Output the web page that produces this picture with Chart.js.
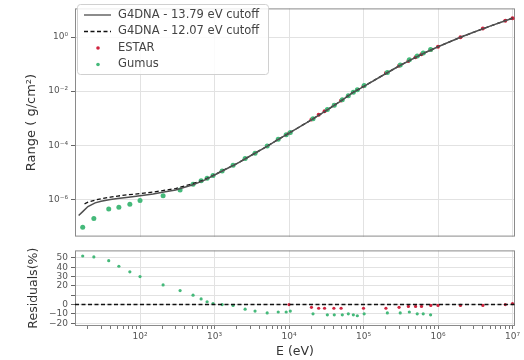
<!DOCTYPE html>
<html>
<head>
<meta charset="utf-8">
<script src="https://cdn.jsdelivr.net/npm/chart.js@4.4.1/dist/chart.umd.min.js"></script>
<style>
  body { margin: 0; background: #fff; width: 524px; height: 360px; position: relative; overflow: hidden; }
  canvas { position: absolute; left: 0; }
  #rangeChart { top: 0; }
  #residChart { top: 242px; }
</style>
</head>
<body>
<canvas id="rangeChart" width="524" height="245"></canvas>
<canvas id="residChart" width="524" height="118"></canvas>
<script>
// G4DNA range curves (eV -> g/cm2)
const energyCurve = [15, 17, 20, 25, 30, 40, 50, 70, 100, 150, 200, 300, 500, 700, 1000, 1500, 2000, 3000, 5000, 7000,
  1e4, 2e4, 3e4, 5e4, 7e4, 1e5, 2e5, 3e5, 5e5, 7e5, 1e6, 2e6, 3e6, 5e6, 7e6, 1e7]
const range1379 = [2.5e-7, 3.5e-7, 5.4e-7, 7.4e-7, 8.5e-7, 9.8e-7, 1.07e-6, 1.2e-6, 1.35e-6, 1.58e-6, 1.82e-6, 2.19e-6,
  3.4e-6, 4.8e-6, 7.9e-6, 1.41e-5, 2.1e-5, 4.0e-5, 8.9e-5, 1.58e-4, 2.8e-4, 8.7e-4, 1.74e-3, 4.4e-3, 8.5e-3, 1.48e-2,
  4.5e-2, 8.5e-2, 0.178, 0.28, 0.437, 0.98, 1.51, 2.54, 3.55, 4.98]

const energyDashed = [18, 20, 25, 30, 40, 50, 70, 100, 150, 200, 300, 500, 700, 1000, 1500, 2000, 3000, 5000, 7000,
  1e4, 2e4, 3e4, 5e4, 7e4, 1e5, 2e5, 3e5, 5e5, 7e5, 1e6, 2e6, 3e6, 5e6, 7e6, 1e7]
const range1207 = [6.8e-7, 7.8e-7, 9.3e-7, 1.05e-6, 1.2e-6, 1.32e-6, 1.48e-6, 1.62e-6, 1.86e-6, 2.09e-6, 2.5e-6,
  3.7e-6, 5.0e-6, 8.1e-6, 1.43e-5, 2.1e-5, 4.0e-5, 8.9e-5, 1.58e-4, 2.8e-4, 8.7e-4, 1.74e-3, 4.4e-3, 8.5e-3, 1.48e-2,
  4.5e-2, 8.5e-2, 0.178, 0.28, 0.437, 0.98, 1.51, 2.54, 3.55, 4.98]

// ESTAR
const energyEstar = [1e4, 2e4, 2.5e4, 3e4, 4e4, 5e4, 1e5, 2e5, 3e5, 4e5, 5e5, 6e5, 8e5, 1e6, 2e6, 4e6, 8e6, 1e7]
const rangeEstar = [2.8e-4, 8.9e-4, 1.33e-3, 1.8e-3, 3.0e-3, 4.55e-3, 1.53e-2, 4.68e-2, 8.7e-2, 0.131, 0.181, 0.231,
  0.33, 0.44, 0.99, 2.06, 4.03, 4.93]
const residEstar = [0, -3, -4, -4, -4, -4, -4, -4, -3, -2, -2, -2, -1, -1, -1, -1, 0, 1]

// Gumus
const energyGumus = [17, 24, 38, 52, 73, 100, 204, 345, 515, 661, 795, 955, 1265, 1775, 2575, 3500, 5090, 7160, 9160,
  10400, 21000, 32700, 40500, 51900, 62500, 73000, 82600, 102000, 209000, 311000, 412000, 526000, 633000, 795000]
const rangeGumus = [9.3e-8, 1.95e-7, 4.4e-7, 5.1e-7, 6.6e-7, 9.1e-7, 1.35e-6, 2.2e-6, 3.6e-6, 4.9e-6, 6.0e-6, 7.6e-6,
  1.12e-5, 1.82e-5, 3.2e-5, 5.1e-5, 9.3e-5, 1.66e-4, 2.45e-4, 2.95e-4, 9.5e-4, 2.1e-3, 3.0e-3, 4.8e-3, 6.8e-3, 9.1e-3,
  1.12e-2, 1.62e-2, 4.9e-2, 9.3e-2, 0.145, 0.2, 0.257, 0.347]
const residGumus = [52, 51, 47, 41, 35, 30, 21, 15, 10, 6, 3, 1, 0, -1, -5, -7, -9, -8, -8, -7, -10, -11, -11, -11,
  -10, -11, -12, -10, -9, -9, -8, -10, -10, -11]

// ticks
const xDecades = [1e2, 1e3, 1e4, 1e5, 1e6, 1e7]
const yRangeTicks = [1e-6, 1e-4, 1e-2, 1]
const yResidTicks = [-20, -10, 0, 10, 20, 30, 40, 50]

const X_MIN = 13.4, X_MAX = 1.08e7
const RED = '#d0243f'
const GREEN = '#45b97a'
const GRID = '#e2e2e2'
const FONT = 'DejaVu Sans'

const pts = (xs, ys) => xs.map((x, i) => ({ x: x, y: ys[i] }))
const isPow10 = v => Math.abs(Math.log10(v) - Math.round(Math.log10(v))) < 1e-9
const sup = n => String(n).split('').map(c => c === '-' ? '⁻' : '⁰¹²³⁴⁵⁶⁷⁸⁹'[+c]).join('')
const powLabel = v => '10' + sup(Math.round(Math.log10(v)))

const frame = {
  id: 'frame',
  beforeDatasetsDraw(chart) {
    const { ctx, chartArea: a } = chart
    ctx.save()
    ctx.strokeStyle = '#8a8a8a'
    ctx.lineWidth = 1
    ctx.strokeRect(a.left + 0.5, a.top + 0.5, a.right - a.left - 1, a.bottom - a.top - 1)
    ctx.restore()
  }
}

const legendBox = {
  id: 'legendBox',
  afterDraw(chart) {
    const ctx = chart.ctx
    const x0 = 77, y0 = 4, w = 191, h = 70
    ctx.save()
    ctx.fillStyle = 'rgba(255,255,255,0.85)'
    ctx.strokeStyle = '#d0d0d0'
    ctx.lineWidth = 1
    ctx.beginPath()
    ctx.roundRect(x0 + 0.5, y0 + 0.5, w, h, 3)
    ctx.fill()
    ctx.stroke()
    const rows = [
      { label: 'G4DNA - 13.79 eV cutoff', kind: 'line', color: '#666' },
      { label: 'G4DNA - 12.07 eV cutoff', kind: 'dash', color: '#111' },
      { label: 'ESTAR', kind: 'dot', color: RED },
      { label: 'Gumus', kind: 'dot', color: GREEN }
    ]
    ctx.font = '11.5px "' + FONT + '"'
    ctx.textBaseline = 'middle'
    rows.forEach((r, i) => {
      const y = 15 + i * 16.5
      if (r.kind === 'dot') {
        ctx.fillStyle = r.color
        ctx.beginPath()
        ctx.arc(98, y, 1.8, 0, Math.PI * 2)
        ctx.fill()
      } else {
        ctx.strokeStyle = r.color
        ctx.lineWidth = 1.5
        ctx.setLineDash(r.kind === 'dash' ? [4, 2.5] : [])
        ctx.beginPath()
        ctx.moveTo(84, y)
        ctx.lineTo(111, y)
        ctx.stroke()
        ctx.setLineDash([])
      }
      ctx.fillStyle = '#444'
      ctx.fillText(r.label, 118, y)
    })
    ctx.restore()
  }
}

const tickFont = { family: FONT, size: 9 }

// Range panel
new Chart(document.getElementById('rangeChart'), {
  type: 'scatter',
  data: {
    datasets: [
      { data: pts(energyCurve, range1379), showLine: true, borderColor: '#505050', borderWidth: 1.5, pointRadius: 0 },
      { data: pts(energyDashed, range1207), showLine: true, borderColor: '#111', borderWidth: 1.3, borderDash: [4, 2.5], pointRadius: 0 },
      { data: pts(energyGumus, rangeGumus), backgroundColor: GREEN, borderWidth: 0, pointRadius: 2.5 },
      { data: pts(energyEstar, rangeEstar), backgroundColor: RED, borderWidth: 0, pointRadius: 2 }
    ]
  },
  options: {
    responsive: false,
    animation: false,
    layout: { padding: { top: 3, bottom: 3, right: 9, left: 0 } },
    plugins: { legend: { display: false }, tooltip: { enabled: false } },
    scales: {
      x: {
        type: 'logarithmic', min: X_MIN, max: X_MAX,
        afterBuildTicks: s => { s.ticks = xDecades.map(v => ({ value: v })) },
        afterFit: s => { s.height = 0 },
        ticks: { display: false },
        grid: { color: GRID, drawTicks: false },
        border: { display: false }
      },
      y: {
        type: 'logarithmic', min: 4.17e-8, max: 11.5,
        afterBuildTicks: s => { s.ticks = yRangeTicks.map(v => ({ value: v })) },
        afterFit: s => { s.width = 75 },
        ticks: { callback: v => powLabel(v), font: tickFont, color: '#555', padding: 3, autoSkip: false },
        grid: { color: GRID, tickColor: '#666', tickLength: 4 },
        border: { display: false },
        title: { display: true, text: 'Range ( g/cm²)', font: { family: FONT, size: 13 }, color: '#333', padding: { top: 24, bottom: 0 } }
      }
    }
  },
  plugins: [frame, legendBox]
})

// Residual panel
const xMinorTicks = []
for (let e = 1; e <= 7; e++) {
  for (let d = 1; d <= 9; d++) {
    const v = d * Math.pow(10, e)
    if (v >= X_MIN && v <= X_MAX) xMinorTicks.push({ value: v })
  }
}

new Chart(document.getElementById('residChart'), {
  type: 'scatter',
  data: {
    datasets: [
      { data: [{ x: X_MIN, y: 0 }, { x: X_MAX, y: 0 }], showLine: true, borderColor: '#111', borderWidth: 1.4, borderDash: [4, 2.5], pointRadius: 0 },
      { data: pts(energyEstar, residEstar), backgroundColor: RED, borderWidth: 0, pointRadius: 1.6 },
      { data: pts(energyGumus, residGumus), backgroundColor: GREEN, borderWidth: 0, pointRadius: 1.6 }
    ]
  },
  options: {
    responsive: false,
    animation: false,
    layout: { padding: { top: 3, bottom: 0, right: 9, left: 0 } },
    plugins: { legend: { display: false }, tooltip: { enabled: false } },
    scales: {
      x: {
        type: 'logarithmic', min: X_MIN, max: X_MAX,
        afterBuildTicks: s => { s.ticks = xMinorTicks.slice() },
        afterFit: s => { s.height = 34 },
        ticks: { callback: v => isPow10(v) ? powLabel(v) : '', font: tickFont, color: '#555', autoSkip: false, maxRotation: 0, padding: 2 },
        grid: { color: c => (c.tick && isPow10(c.tick.value)) ? GRID : 'rgba(0,0,0,0)', tickColor: '#777', tickLength: 3 },
        border: { display: false },
        title: { display: true, text: 'E (eV)', font: { family: FONT, size: 12.5 }, color: '#333', padding: { top: 0, bottom: 1 } }
      },
      y: {
        min: -23, max: 58,
        afterBuildTicks: s => { s.ticks = yResidTicks.map(v => ({ value: v })) },
        afterFit: s => { s.width = 75 },
        ticks: { callback: v => v === 10 ? '' : (v < 0 ? '−' + Math.abs(v) : String(v)), font: tickFont, color: '#555', padding: 3, autoSkip: false },
        grid: { color: GRID, tickColor: '#666', tickLength: 4 },
        border: { display: false },
        title: { display: true, text: 'Residuals(%)', font: { family: FONT, size: 12.5 }, color: '#333', padding: { top: 26, bottom: 0 } }
      }
    }
  },
  plugins: [frame]
})
</script>
</body>
</html>
